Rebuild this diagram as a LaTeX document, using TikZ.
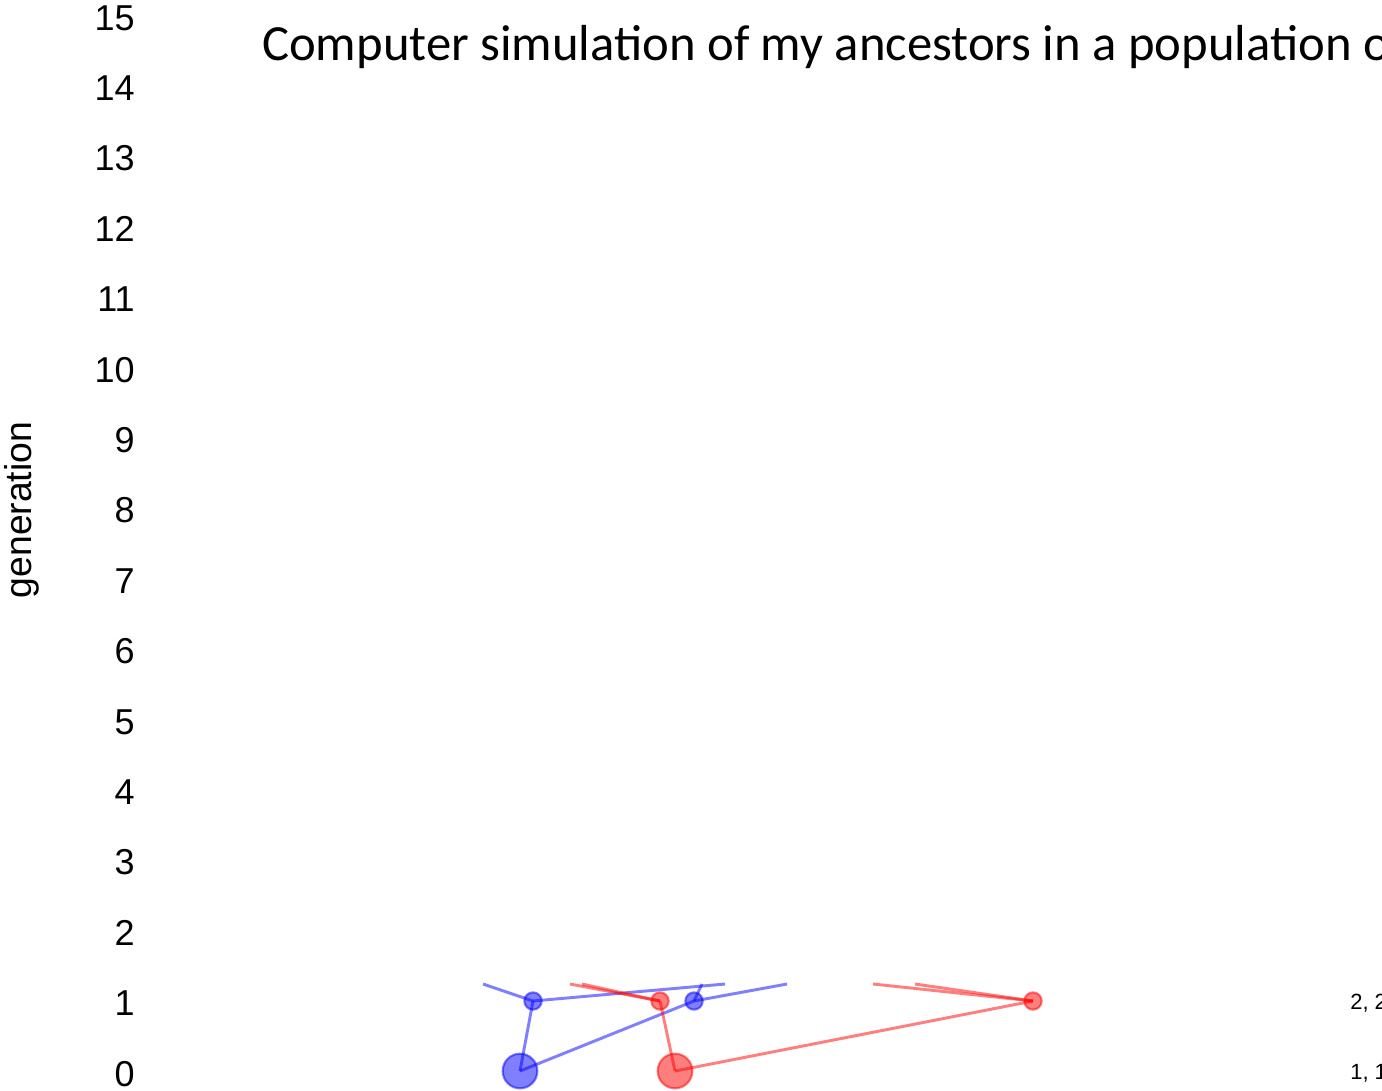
\documentclass[tikz,border=0pt]{standalone}
\usepackage{fontspec}
\setmainfont{Liberation Sans}
\newfontfamily\titlefont{Carlito}
\begin{document}
\begin{tikzpicture}[x=0.75pt,y=-0.75pt,
  axisnum/.style={anchor=base east,inner sep=0,font=\fontsize{27}{27}\selectfont},
  bdot/.style={circle,inner sep=0,fill=blue,fill opacity=0.5,draw=blue,draw opacity=0.5,line width=1.6pt},
  rdot/.style={circle,inner sep=0,fill=red,fill opacity=0.5,draw=red,draw opacity=0.5,line width=1.6pt},
  big/.style={minimum size=26pt},
  small/.style={minimum size=13pt},
  bline/.style={draw=blue,opacity=0.5,line width=2.2pt},
  rline/.style={draw=red,opacity=0.5,line width=2.2pt},
  rowlab/.style={anchor=base west,inner sep=0,font=\fontsize{16.5}{16.5}\selectfont}]
\useasboundingbox (0,0) rectangle (1382,1090);
\clip (0,0) rectangle (1382,1090);
% title
\node[anchor=base west,inner sep=0,font=\titlefont\fontsize{38}{38}\selectfont] (title) at (262,60) {Computer simulation of my ancestors in a population o};
% axis
\foreach \g in {0,...,15}{
  \node[axisnum] (g\g) at (135,{1086-70.4*\g}) {\g};
}
\node[rotate=90,inner sep=0,font=\fontsize{28}{28}\selectfont] (ylab) at (22,510) {generation};
% row labels
\node[rowlab] (lab2) at (1350,1009) {2, 2};
\node[rowlab] (lab1) at (1350,1079) {1, 1};
% nodes
\node[bdot,big] (b0) at (520,1071) {};
\node[rdot,big] (r0) at (675,1071) {};
\node[bdot,small] (A) at (533,1001) {};
\node[rdot,small] (B) at (660,1001) {};
\node[bdot,small] (C) at (694,1001) {};
\node[rdot,small] (D) at (1033,1001) {};
% clipped parent ends
\coordinate (a1) at (483,984);
\coordinate (a2) at (725,984);
\coordinate (c1) at (702,984);
\coordinate (c2) at (787,984);
\coordinate (bb1) at (570,984);
\coordinate (bb2) at (582,984);
\coordinate (d1) at (873,984);
\coordinate (d2) at (915,984);
% connectors
\draw[bline] (b0.center) -- (A.center);
\draw[bline] (b0.center) -- (C.center);
\draw[bline] (A.center) -- (a1);
\draw[bline] (A.center) -- (a2);
\draw[bline] (C.center) -- (c1);
\draw[bline] (C.center) -- (c2);
\draw[rline] (r0.center) -- (B.center);
\draw[rline] (r0.center) -- (D.center);
\draw[rline] (B.center) -- (bb1);
\draw[rline] (B.center) -- (bb2);
\draw[rline] (D.center) -- (d1);
\draw[rline] (D.center) -- (d2);
\end{tikzpicture}
\end{document}
